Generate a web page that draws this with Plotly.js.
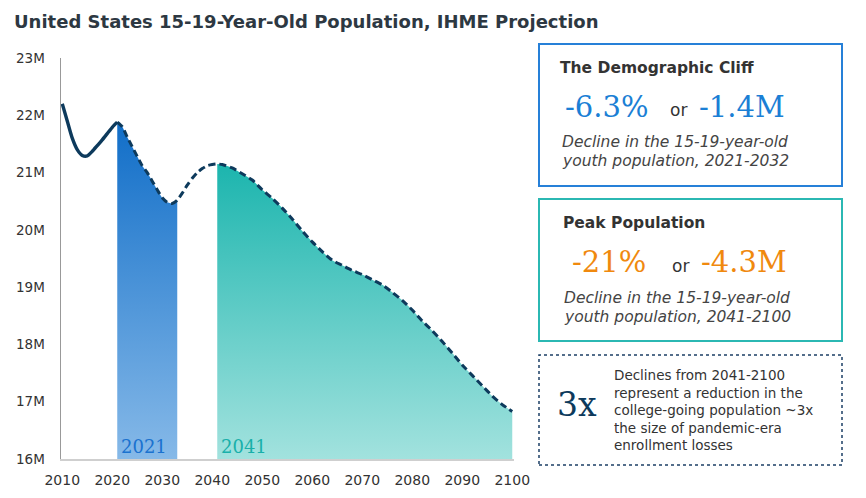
<!DOCTYPE html>
<html>
<head>
<meta charset="utf-8">
<script src="https://cdn.plot.ly/plotly-3.0.1.min.js"></script>
<style>body{margin:0;background:#fff}</style>
</head>
<body>
<div id="chart" style="width:866px;height:498px"></div>
<script>
// 15-19 year old population, millions
var years = [2010,2011,2012,2013,2014,2015,2016,2017,2018,2019,2020,2021,
    2022,2023,2024,2025,2026,2027,2028,2029,2030,2031,2032,2033,2034,2035,
    2036,2037,2038,2039,2040,2041,2042,2044,2046,2048,2050,2052,2054,2056,
    2058,2060,2062,2064,2066,2068,2070,2072,2074,2076,2078,2080,2082,2084,
    2086,2088,2090,2092,2094,2096,2098,2100];
var pop = [22.20,21.90,21.60,21.40,21.30,21.29,21.37,21.47,21.57,21.68,21.79,21.88,
    21.80,21.62,21.45,21.28,21.12,21.00,20.85,20.70,20.56,20.48,20.46,20.52,20.64,20.78,
    20.90,21.00,21.07,21.12,21.14,21.15,21.14,21.08,20.98,20.87,20.70,20.55,20.38,20.19,
    19.98,19.79,19.62,19.47,19.38,19.29,19.22,19.13,19.04,18.91,18.77,18.60,18.41,18.24,
    18.05,17.85,17.64,17.46,17.28,17.10,16.95,16.83];
var lastActual = 2021;
var cliffYears = [2021, 2033];
var peakYears = [2041, 2100];
var yTicks = [16,17,18,19,20,21,22,23];
var yLabels = yTicks.map(function(v){ return v + 'M'; });
var xTicks = [2010,2020,2030,2040,2050,2060,2070,2080,2090,2100];

// plot area in pixels, used to place the side boxes
var L = 61, R = 514, T = 58, B = 459;
function px(x){ return (x - L) / (R - L); }
function py(y){ return (B - y) / (B - T); }

function part(from, to){
    var xs = [], ys = [];
    for (var i = 0; i < years.length; i++) {
        if (years[i] >= from && years[i] <= to) { xs.push(years[i]); ys.push(pop[i]); }
    }
    return {x: xs, y: ys};
}

function areaTrace(range, bottom, top){
    var p = part(range[0], range[1]);
    return {
        x: p.x, y: p.y, type: 'scatter', mode: 'lines',
        line: {width: 0, shape: 'spline', smoothing: 0.6},
        fill: 'tozeroy',
        fillgradient: {type: 'vertical', start: yTicks[0], stop: Math.max.apply(null, p.y),
            colorscale: [[0, bottom], [1, top]]},
        hoverinfo: 'skip'
    };
}

var navy = '#0d3a5c';
var actual = part(2010, lastActual);
var proj = part(lastActual, 2100);

var data = [
    areaTrace(cliffYears, '#86b9e8', '#116ec8'),
    areaTrace(peakYears, '#a2e2de', '#1cb5ae'),
    {x: actual.x, y: actual.y, type: 'scatter', mode: 'lines',
     line: {color: navy, width: 3.4, shape: 'spline', smoothing: 0.6}},
    {x: proj.x, y: proj.y, type: 'scatter', mode: 'lines',
     line: {color: navy, width: 3, dash: '7px,4px', shape: 'spline', smoothing: 0.6}}
];

var sans = 'DejaVu Sans, Verdana, sans-serif';
var serif = 'DejaVu Serif, serif';

function note(x, y, text, font, anchor){
    return {xref: 'paper', yref: 'paper', x: px(x), y: py(y), text: text,
        showarrow: false, xanchor: anchor || 'left', yanchor: 'middle', align: 'left', font: font};
}

var head = {family: sans, size: 15.5, color: '#333'};
var blueBig = {family: serif, size: 29, color: '#1b7fd5'};
var orangeBig = {family: serif, size: 29, color: '#f0890e'};
var orFont = {family: sans, size: 17, color: '#333'};
var italic = {family: sans, size: 15.5, color: '#444'};

var annotations = [
    {xref: 'x', yref: 'y', x: cliffYears[0], y: yTicks[0], xshift: 2, yshift: 0,
     text: String(cliffYears[0]), showarrow: false, xanchor: 'left', yanchor: 'bottom',
     font: {family: serif, size: 18, color: '#1b72cf'}},
    {xref: 'x', yref: 'y', x: peakYears[0], y: yTicks[0], xshift: 2, yshift: 0,
     text: String(peakYears[0]), showarrow: false, xanchor: 'left', yanchor: 'bottom',
     font: {family: serif, size: 18, color: '#19b0aa'}},

    note(558, 68, '<b>The Demographic Cliff</b>', head),
    note(563, 107, '-6.3%', blueBig),
    note(668, 110, 'or', orFont),
    note(697, 107, '-1.4M', blueBig),
    note(560, 142, '<i>Decline in the 15-19-year-old</i>', italic),
    note(560, 161, '<i>youth population, 2021-2032</i>', italic),

    note(561, 223, '<b>Peak Population</b>', head),
    note(570, 262, '-21%', orangeBig),
    note(670, 266, 'or', orFont),
    note(699, 262, '-4.3M', orangeBig),
    note(562, 298, '<i>Decline in the 15-19-year-old</i>', italic),
    note(562, 317, '<i>youth population, 2041-2100</i>', italic),

    note(555, 404, '3x', {family: serif, size: 33, color: navy}),
    note(612, 410, 'Declines from 2041-2100<br>represent a reduction in the<br>college-going population ~3x<br>the size of pandemic-era<br>enrollment losses',
        {family: sans, size: 13.5, color: '#333'})
];

function box(x0, y0, x1, y1, color, dash, w){
    return {type: 'rect', xref: 'paper', yref: 'paper',
        x0: px(x0), x1: px(x1), y0: py(y1), y1: py(y0),
        line: {color: color, width: w, dash: dash || 'solid'}};
}

var layout = {
    width: 866, height: 498,
    margin: {l: L, r: 866 - R, t: T, b: 498 - B},
    paper_bgcolor: '#fff', plot_bgcolor: '#fff',
    showlegend: false,
    title: {text: '<b>United States 15-19-Year-Old Population, IHME Projection</b>',
        x: 14 / 866, xanchor: 'left', xref: 'container',
        y: 1 - 22 / 498, yanchor: 'middle', yref: 'container',
        font: {family: sans, size: 18, color: '#2d3842'}},
    xaxis: {range: [2009.75, 2100.35], tickmode: 'array', tickvals: xTicks,
        showgrid: false, zeroline: false,
        showline: true, linecolor: '#cfcfcf', linewidth: 2, ticks: '',
        ticklabelstandoff: 7, tickfont: {family: sans, size: 14, color: '#333'}},
    yaxis: {range: [16, 23], tickmode: 'array', tickvals: yTicks, ticktext: yLabels,
        showgrid: false, zeroline: false,
        showline: true, linecolor: '#999', linewidth: 1.5, ticks: '',
        ticklabelstandoff: 12, tickfont: {family: sans, size: 13.5, color: '#333'}},
    annotations: annotations,
    shapes: [
        box(539, 44, 842, 186, '#2680d8', 'solid', 2),
        box(539, 199, 842, 341, '#2bb8b3', 'solid', 2),
        box(539, 355, 842, 465, '#1c3f66', 'dot', 1.5)
    ]
};

Plotly.newPlot('chart', data, layout, {displayModeBar: false, staticPlot: true});
</script>
</body>
</html>
